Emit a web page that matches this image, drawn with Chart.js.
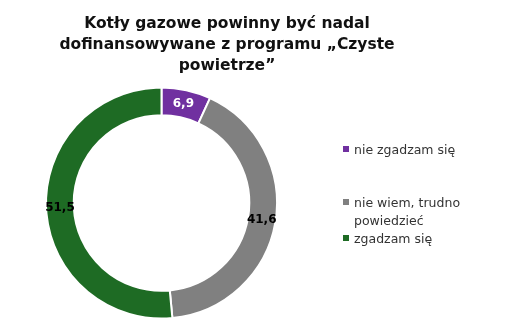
<!DOCTYPE html>
<html><head><meta charset="utf-8">
<script src="https://cdn.jsdelivr.net/npm/chart.js@4"></script>
<style>
html,body{margin:0;padding:0;background:#fff;}
#wrap{position:relative;width:507px;height:334px;}
#title{position:absolute;left:0;width:454px;top:13px;text-align:center;font-family:"DejaVu Sans",sans-serif;font-weight:bold;font-size:15.5px;line-height:21px;color:#111;}
#legend{position:absolute;left:343px;top:0;font-family:"DejaVu Sans",sans-serif;font-size:12.5px;color:#333;}
.li{position:absolute;left:0;white-space:nowrap;line-height:18px;}
.sw{display:inline-block;width:6px;height:6px;margin-right:5px;vertical-align:2px;}
.li span.t{display:inline-block;vertical-align:top;}
</style></head>
<body><div id="wrap"><canvas id="c" width="507" height="334"></canvas>
<div id="title">Kotły gazowe powinny być nadal<br>dofinansowywane z programu „Czyste<br>powietrze”</div>
<div id="legend"></div></div>
<script>
const titleLines = ["Kotły gazowe powinny być nadal","dofinansowywane z programu „Czyste","powietrze”"];
const categories = ["nie zgadzam się","nie wiem, trudno powiedzieć","zgadzam się"];
const legendLines = [["nie zgadzam się"],["nie wiem, trudno","powiedzieć"],["zgadzam się"]];
const values = [6.9, 41.6, 51.5];
const valueLabels = ["6,9","41,6","51,5"];
const colors = ["#7030A0","#808080","#1E6B24"];
const labelColors = ["#ffffff","#000000","#000000"];

document.getElementById('title').innerHTML = titleLines.join('<br>');
const legendTops = [141,194,230];
const lg = document.getElementById('legend');
legendLines.forEach((lines,i)=>{
  const d=document.createElement('div');d.className='li';d.style.top=legendTops[i]+'px';
  const s=document.createElement('span');s.className='sw';s.style.background=colors[i];
  const t=document.createElement('span');t.className='t';t.innerHTML=lines.join('<br>');
  d.appendChild(s);d.appendChild(t);lg.appendChild(d);
});

const labelPlugin={id:'vlabels',afterDatasetsDraw(chart){
  const ctx=chart.ctx;const meta=chart.getDatasetMeta(0);
  ctx.save();ctx.font='bold 12px "DejaVu Sans", sans-serif';ctx.textAlign='center';ctx.textBaseline='middle';
  meta.data.forEach((arc,i)=>{const p=arc.tooltipPosition();ctx.fillStyle=labelColors[i];ctx.fillText(valueLabels[i],p.x,p.y);});
  ctx.restore();
}};

new Chart(document.getElementById('c'),{
  type:'doughnut',
  data:{labels:categories,datasets:[{data:values,backgroundColor:colors,borderColor:'#fff',borderWidth:2}]},
  options:{responsive:false,animation:false,cutout:'76%',
    layout:{padding:{left:45,right:229,top:86,bottom:14}},
    plugins:{legend:{display:false},tooltip:{enabled:false},title:{display:false}}},
  plugins:[labelPlugin]
});
</script></body></html>
